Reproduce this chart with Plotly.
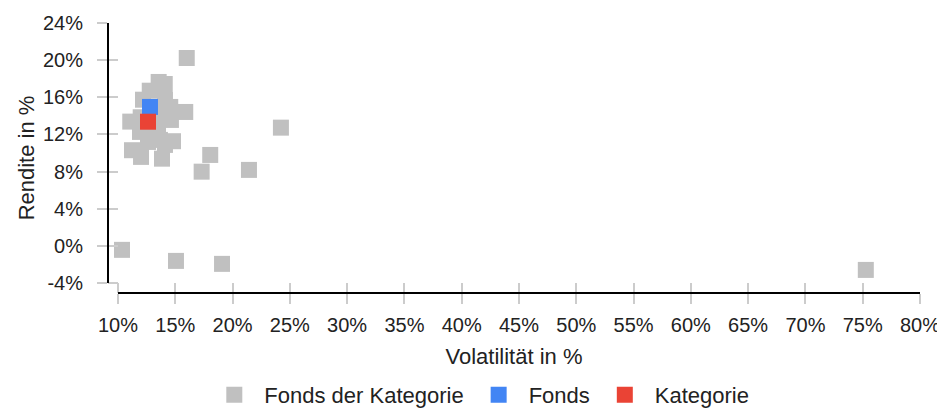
import plotly.graph_objects as go

# Fonds der Kategorie (Volatilität %, Rendite %)
peer_vol = [16.0, 13.55, 14.08, 12.77, 12.18, 14.56, 15.87, 11.98, 11.07, 14.62,
            11.22, 12.01, 13.84, 14.80, 14.10, 12.79, 13.49, 13.23, 13.84, 12.62,
            13.66, 11.92, 14.10, 24.22, 18.05, 17.30, 21.43, 10.35, 15.06, 19.08, 75.27]
peer_ret = [20.23, 17.65, 17.43, 16.71, 15.74, 14.96, 14.42, 13.85, 13.38, 13.56,
            10.30, 9.58, 9.39, 11.27, 10.87, 11.94, 12.70, 14.10, 14.42, 11.19,
            11.41, 12.27, 15.71, 12.73, 9.79, 7.99, 8.18, -0.43, -1.62, -1.94, -2.59]
fund_vol = [12.79]
fund_ret = [14.96]
cat_vol = [12.62]
cat_ret = [13.37]

x_ticks = list(range(10, 81, 5))
y_ticks = list(range(-4, 25, 4))

FONT = "Liberation Sans, Arial, sans-serif"
GRAY = "#c0c0c0"
TICKC = "#cccccc"

W, H = 937, 400
ML, MR, MT, MB = 100, 25, 15, 115
PW, PH = W - ML - MR, H - MT - MB
OFF = 10  # detached-axis gap in px

xr = [10 - OFF * 70 / (PW - OFF), 80]
yr = [-4 - OFF * 28 / (PH - OFF), 24]

plain = dict(showgrid=False, zeroline=False, showticklabels=False, ticks="")

fig = go.Figure()
fig.add_trace(go.Scatter(x=peer_vol, y=peer_ret, mode="markers", name="Fonds der Kategorie",
                         marker=dict(symbol="square", size=16, color=GRAY)))
fig.add_trace(go.Scatter(x=fund_vol, y=fund_ret, mode="markers", name="Fonds",
                         marker=dict(symbol="square", size=16, color="#4285f4")))
fig.add_trace(go.Scatter(x=cat_vol, y=cat_ret, mode="markers", name="Kategorie",
                         marker=dict(symbol="square", size=16, color="#ea4335")))
# helper subplots: crossing ticks and detached axis lines (transparent backgrounds)
fig.add_trace(go.Scatter(x=[None], y=[None], xaxis="x2", yaxis="y2", showlegend=False,
                         hoverinfo="skip"))
fig.add_trace(go.Scatter(x=[None], y=[None], xaxis="x3", yaxis="y3", showlegend=False,
                         hoverinfo="skip"))

fig.update_layout(
    width=W, height=H,
    margin=dict(l=ML, r=MR, t=MT, b=MB, autoexpand=False),
    paper_bgcolor="white", plot_bgcolor="rgba(0,0,0,0)",
    font=dict(family=FONT, size=20, color="#222222"),
    showlegend=True,
    legend=dict(orientation="h", xref="container", yref="paper",
                x=0.503, xanchor="center", y=-0.378, yanchor="middle",
                font=dict(size=22, color="#222222"), itemwidth=50),
    xaxis=dict(range=xr, tickvals=x_ticks, ticktext=[f"{v}%" for v in x_ticks],
               showgrid=False, zeroline=False, showline=False, automargin=False,
               ticks="outside", ticklen=10, tickwidth=2, tickcolor=TICKC,
               ticklabelstandoff=4,
               title=dict(text="Volatilität in %", standoff=13, font=dict(size=22))),
    yaxis=dict(range=yr, tickvals=y_ticks, ticktext=[f"{v}%" for v in y_ticks],
               showgrid=False, zeroline=False, showline=False, automargin=False,
               ticks="outside", ticklen=10, tickwidth=2, tickcolor=TICKC,
               ticklabelstandoff=10,
               title=dict(text="Rendite in %", standoff=2, font=dict(size=22))),
    xaxis2=dict(overlaying="x", matches="x", anchor="y", side="bottom", range=xr,
                tickvals=x_ticks, showticklabels=False, showgrid=False, zeroline=False,
                showline=False, ticks="inside", ticklen=10, tickwidth=2, tickcolor=TICKC),
    yaxis2=dict(overlaying="y", matches="y", anchor="x", side="left", range=yr,
                tickvals=y_ticks, showticklabels=False, showgrid=False, zeroline=False,
                showline=False, ticks="inside", ticklen=10, tickwidth=2, tickcolor=TICKC),
    # detached axis lines: 10% .. 80% and -4% .. 24%
    xaxis3=dict(domain=[OFF / PW, 1], anchor="free", position=0, range=[10, 80],
                showline=True, linecolor="black", linewidth=2, **plain),
    yaxis3=dict(domain=[OFF / PH, 1], anchor="free", position=0, range=[-4, 24],
                showline=True, linecolor="black", linewidth=2, **plain),
)

fig.write_html("out.html")
